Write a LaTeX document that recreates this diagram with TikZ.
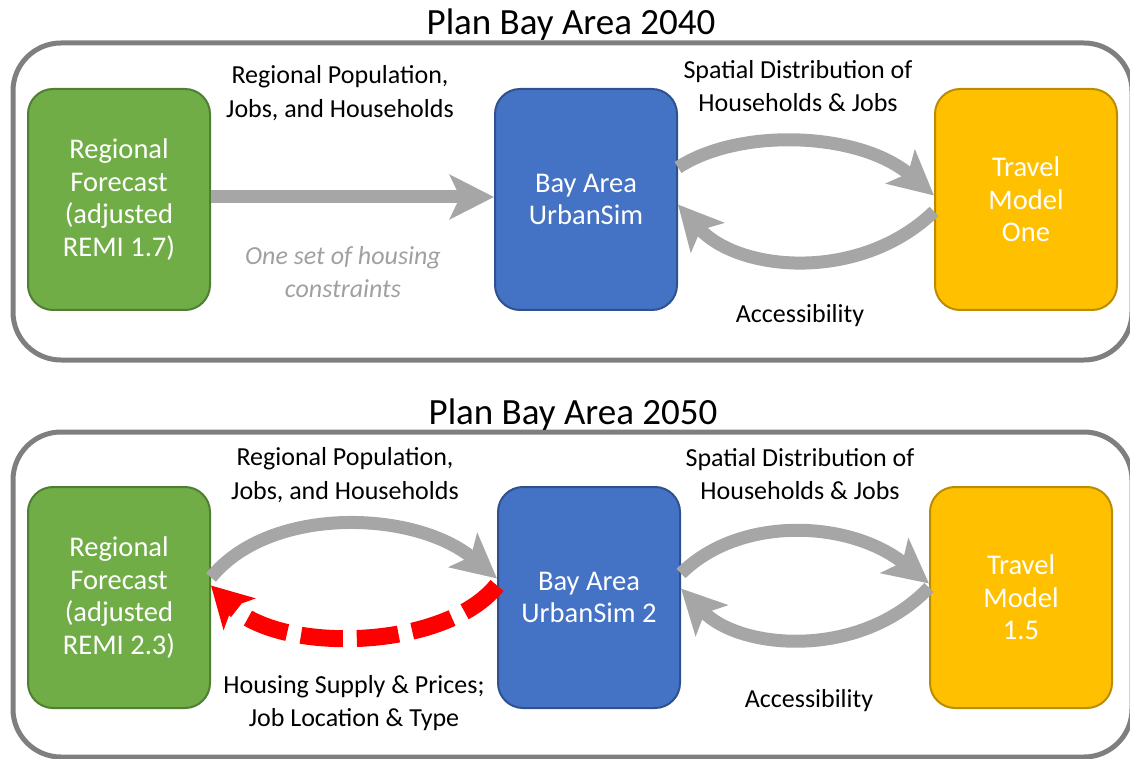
\documentclass[tikz,border=0pt]{standalone}
\usepackage{fontspec}
\setmainfont{Carlito}
\usepackage{tikz}
\usetikzlibrary{calc, arrows.meta, positioning}
\definecolor{fcgreen}{HTML}{70AD47}
\definecolor{fcgreenline}{HTML}{507E32}
\definecolor{simblue}{HTML}{4472C4}
\definecolor{simblueline}{HTML}{2F528F}
\definecolor{tmyellow}{HTML}{FFC000}
\definecolor{tmyellowline}{HTML}{BC8C00}
\definecolor{flowgray}{HTML}{A6A6A6}
\definecolor{panelgray}{HTML}{7F7F7F}
\definecolor{notegray}{HTML}{A0A0A0}
\tikzset{
    boxnode/.style = {draw, rectangle, rounded corners=25pt, line width=2pt, inner sep=0pt,
      minimum width=182pt, minimum height=221pt, text=white, align=center,
      font=\fontsize{28.5}{32.5}\selectfont},
    greennode/.style = {boxnode, fill=fcgreen, draw=fcgreenline},
    bluenode/.style = {boxnode, fill=simblue, draw=simblueline},
    yellownode/.style = {boxnode, fill=tmyellow, draw=tmyellowline},
    textnode/.style = {draw=none, fill=none, rectangle, inner sep=0pt, align=center,
      font=\fontsize{26}{33.5}\selectfont},
    notenode/.style = {textnode, text=notegray, font=\fontsize{26}{33.5}\selectfont\itshape},
    titlenode/.style = {textnode, font=\fontsize{37}{42}\selectfont},
    panelbox/.style = {draw=panelgray, line width=5pt, rounded corners=48pt},
    flow/.style = {draw=flowgray, line width=13pt, -{Stealth[length=44pt, width=44pt, inset=10pt]}},
    feedback/.style = {draw=red, line width=17pt, dash pattern=on 42pt off 14pt,
      -{Stealth[length=40pt, width=44pt, inset=10pt]}}
}
\begin{document}
\begin{tikzpicture}[x=1pt, y=1pt]
    \useasboundingbox (0,0) rectangle (1130,-759);

    % Plan Bay Area 2040
    \draw [panelbox] (13,-43) rectangle (1132,-360);
    \node [titlenode, name=title40] at (571,-25) {Plan Bay Area 2040};
    \node [greennode, name=rf40] at (119,-199.5) {Regional\\Forecast\\(adjusted\\REMI 1.7)};
    \node [bluenode, name=bua40] at (586,-199.5) {Bay Area\\UrbanSim};
    \node [yellownode, name=tm40] at (1026,-199.5) {Travel\\Model\\One};
    \node [textnode, name=pop40] at (340,-93) {Regional Population,\\Jobs, and Households};
    \node [notenode, name=housing40] at (343,-272) {One set of housing\\constraints};
    \node [textnode, name=spatial40] at (798,-86) {Spatial Distribution of\\Households \& Jobs};
    \node [textnode, name=access40] at (800,-316) {Accessibility};
    \draw [flow] ($(rf40.east)+(0,2.5)$) -- ($(bua40.west)+(0,2.5)$);
    \draw [flow] ($(bua40.east)+(0,32)$) .. controls (740,-127) and (860,-132) .. ($(tm40.west)+(0,4)$);
    \draw [flow] ($(tm40.west)+(0,-12)$) .. controls (860,-283) and (738,-272) .. ($(bua40.east)+(0,-5)$);

    % Plan Bay Area 2050
    \draw [panelbox] (13,-432) rectangle (1132,-757);
    \node [titlenode, name=title50] at (573,-415) {Plan Bay Area 2050};
    \node [greennode, name=rf50] at (119,-597.5) {Regional\\Forecast\\(adjusted\\REMI 2.3)};
    \node [bluenode, name=bua50] at (589,-597.5) {Bay Area\\UrbanSim 2};
    \node [yellownode, name=tm50] at (1021,-597.5) {Travel\\Model\\1.5};
    \node [textnode, name=pop50] at (345,-475) {Regional Population,\\Jobs, and Households};
    \node [textnode, name=supply50] at (354,-703) {Housing Supply \& Prices;\\Job Location \& Type};
    \node [textnode, name=spatial50] at (800,-474) {Spatial Distribution of\\Households \& Jobs};
    \node [textnode, name=access50] at (809,-701) {Accessibility};
    \draw [flow] ($(rf50.east)+(0,20)$) .. controls (270,-505) and (415,-510) .. ($(bua50.west)+(0,19)$);
    \draw [feedback] ($(bua50.west)+(0,12)$) .. controls (445,-650) and (280,-655) .. ($(rf50.east)+(0,12)$);
    \draw [flow] ($(bua50.east)+(0,24)$) .. controls (740,-515) and (850,-520) .. ($(tm50.west)+(0,14)$);
    \draw [flow] ($(tm50.west)+(0,10)$) .. controls (860,-660) and (740,-650) .. ($(bua50.east)+(0,9)$);
\end{tikzpicture}
\end{document}
